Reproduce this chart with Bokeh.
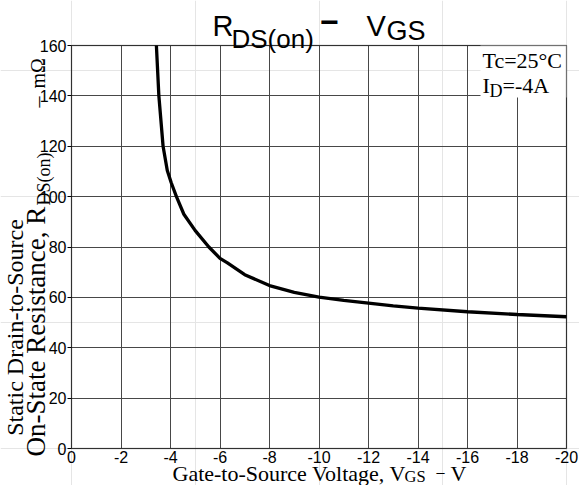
import math
from bokeh.plotting import figure
from bokeh.models import Range1d, FixedTicker, Label, BoxAnnotation, LinearAxis, Grid
from bokeh.embed import file_html
from bokeh.resources import INLINE

# ---- data ----
vgs = [-3.43, -3.53, -3.70, -3.87, -4.03, -4.24, -4.54, -5.0, -5.55, -6.0, -6.3,
       -7.0, -8.0, -9.0, -10.0, -11.0, -12.0, -13.0, -14.0, -16.0, -18.0, -20.0]
rds = [160, 140, 120, 110.4, 105.5, 100, 93, 86.5, 80, 75.5, 73.7,
       69, 64.7, 62, 60.1, 58.8, 57.7, 56.6, 55.7, 54.3, 53.2, 52.3]

x_ticks = [0, -2, -4, -6, -8, -10, -12, -14, -16, -18, -20]
x_tick_labels = ["0", "-2", "-4", "-6", "-8", "-10", "-12", "-14", "-16", "-18", "-20"]
y_ticks = [0, 20, 40, 60, 80, 100, 120, 140, 160]
y_tick_labels = ["0", "20", "40", "60", "80", "100", "120", "140", "160"]

SANS = "Liberation Sans"
SERIF = "Liberation Serif"

# ---- layout (pixels inside the canvas) ----
W, H = 579, 485
BOX_L, BOX_R, BOX_T, BOX_B = 71, 566, 45, 448   # plot box inside canvas
XMIN, XMAX, YMIN, YMAX = 0, -20, 0, 160
kx = (BOX_R - BOX_L) / (XMIN - XMAX)
ky = (BOX_B - BOX_T) / (YMAX - YMIN)
x_range = Range1d(XMIN + BOX_L / kx, XMAX - (W - BOX_R) / kx)
y_range = Range1d(YMIN - (H - BOX_B) / ky, YMAX + BOX_T / ky)

p = figure(width=W, height=H, x_range=x_range, y_range=y_range,
           output_backend="svg", toolbar_location=None, title=None,
           x_axis_location=None, y_axis_location=None, min_border=0)
p.background_fill_color = "white"
p.border_fill_color = "white"
p.outline_line_color = None

# axes (fixed at the plot box edges)
xaxis = LinearAxis(fixed_location=0, ticker=FixedTicker(ticks=x_ticks))
yaxis = LinearAxis(fixed_location=0, ticker=FixedTicker(ticks=y_ticks))
xaxis.major_label_overrides = {t: l for t, l in zip(x_ticks, x_tick_labels)}
yaxis.major_label_overrides = {t: l for t, l in zip(y_ticks, y_tick_labels)}
for ax in (xaxis, yaxis):
    ax.axis_line_color = None
    ax.minor_tick_line_color = None
    ax.major_tick_in = 0
    ax.major_label_text_font = SANS
    ax.major_label_text_font_size = "16px"
    ax.major_label_text_color = "black"
xaxis.major_tick_out = 0
xaxis.major_tick_line_color = None
xaxis.major_label_standoff = 2
yaxis.major_tick_out = 4
yaxis.major_tick_line_color = "black"
yaxis.major_label_standoff = 1
p.add_layout(xaxis, "below")
p.add_layout(yaxis, "left")

# grid limited to the plot box
GRID_COLOR = "#474747"
try:
    xg = Grid(dimension=0, ticker=FixedTicker(ticks=x_ticks), cross_bounds=(YMIN, YMAX),
              grid_line_color=GRID_COLOR, grid_line_width=1)
    yg = Grid(dimension=1, ticker=FixedTicker(ticks=y_ticks), cross_bounds=(XMAX, XMIN),
              grid_line_color=GRID_COLOR, grid_line_width=1)
    p.add_layout(xg)
    p.add_layout(yg)
except Exception:
    p.segment(x0=x_ticks, x1=x_ticks, y0=[YMIN] * len(x_ticks), y1=[YMAX] * len(x_ticks),
              line_color=GRID_COLOR, line_width=1)
    p.segment(x0=[XMIN] * len(y_ticks), x1=[XMAX] * len(y_ticks), y0=y_ticks, y1=y_ticks,
              line_color=GRID_COLOR, line_width=1)

# curve
p.line(vgs, rds, line_color="black", line_width=3.3)

# white box behind the condition text
p.add_layout(BoxAnnotation(left=XMAX + (BOX_R - 480) / kx, right=XMAX, top=YMAX,
                           bottom=YMAX - (97 - BOX_T) / ky,
                           fill_color="white", fill_alpha=1, line_color=None))
# plot box outline
p.add_layout(BoxAnnotation(left=XMIN, right=XMAX, top=YMAX, bottom=YMIN,
                           fill_alpha=0, fill_color=None, line_color="black", line_width=1.5))

BASE_SHIFT = 0.33  # observed offset of the rendered baseline, in em


def lab(text, px, py, size, font, align="left", angle=0.0, style="normal"):
    """Text whose baseline starts at canvas pixel (px, py), via offsets from the box corner."""
    d = BASE_SHIFT * size
    if angle == 0.0:
        py -= d
    else:
        px -= d
    p.add_layout(Label(x=XMIN, y=YMIN, x_offset=px - BOX_L, y_offset=BOX_B - py, text=text,
                       text_font=font, text_font_size=f"{size}px",
                       text_align=align, text_baseline="alphabetic", angle=angle,
                       text_color="black", text_font_style=style))

# title
lab("R", 212, 35, 29, SANS)
lab("DS(on)", 231, 47, 26, SANS)
lab("\u2212", 329, 32, 32, SANS, align="center", style="bold")
lab("V", 366, 35, 29, SANS)
lab("GS", 386, 39, 27, SANS)

# x-axis title
lab("Gate-to-Source Voltage, V", 172, 480, 22, SERIF)
lab("GS", 404, 481, 16.5, SERIF)
lab("\u2013", 436, 476, 16, SERIF)
lab("V", 450, 480, 22, SERIF)

# y-axis title (rotated, two lines)
rot = math.pi / 2
lab("On-State Resistance, R", 44, 456, 27, SERIF, angle=rot)
lab("DS(on)", 49, 205, 18, SERIF, angle=rot)
lab("\u2013", 44, 107, 22, SERIF, angle=rot)
lab("m\u03a9", 44, 88, 20, SERIF, angle=rot)
lab("Static Drain-to-Source", 22, 327, 24, SERIF, align="center", angle=rot)

# condition text
lab("Tc=25\u00b0C", 482, 67, 22, SERIF)
lab("I", 482, 92, 22, SERIF)
lab("D", 489, 96.5, 18, SERIF)
lab("=-4A", 502, 92, 22, SERIF)

open("out.html", "w").write(file_html(p, INLINE))
